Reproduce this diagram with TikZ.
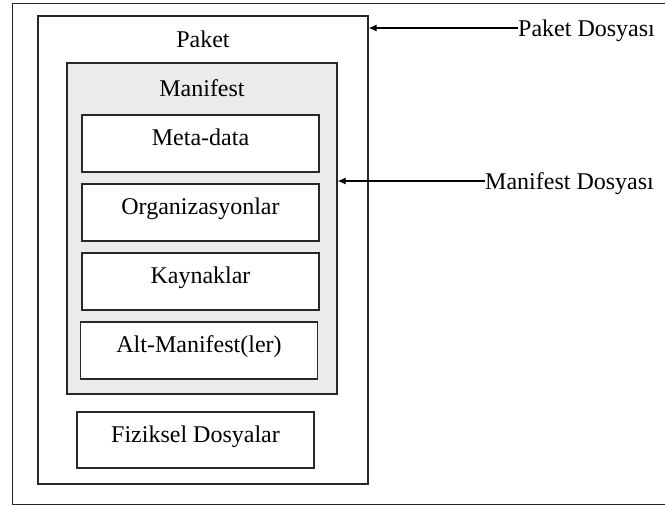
\documentclass[tikz,border=0pt]{standalone}
\usepackage{fontspec}
\setmainfont{Liberation Serif}
\usetikzlibrary{arrows.meta}
\definecolor{panelgray}{RGB}{235,235,235}
\definecolor{edgegray}{RGB}{40,40,40}

\begin{document}
\begin{tikzpicture}[
  x=1pt, y=-1pt,
  font=\fontsize{24}{28}\selectfont,
  frame/.style={
    draw=edgegray,
    line width=1.2pt,
    rectangle,
    inner sep=0pt,
  },
  part/.style={
    frame,
    fill=white,
    minimum width=237pt,
    minimum height=57pt,
    text height=16pt,
    text depth=12pt,
  },
  caption/.style={
    draw=none,
    fill=none,
    inner sep=0pt,
    anchor=base,
  },
  sidenote/.style={
    draw=none,
    inner sep=0pt,
    anchor=west,
    text height=16pt,
    text depth=0pt,
  },
  >={Latex[length=8pt,width=7pt]}
]

\useasboundingbox (0,0) rectangle (665,506);

% outer frame, its right side falls off the page
\draw[edgegray,line width=1pt] (666,3) -- (12,3) -- (12,504) -- (666,504);

% package and manifest
\node[frame,fill=white,minimum width=330pt,minimum height=468pt] (paket) at (203,250) {};
\node[caption] (paketlbl) at (203,47) {Paket};
\node[frame,fill=panelgray,minimum width=270pt,minimum height=331pt] (manifest) at (202,228.5) {};
\node[caption] (manifestlbl) at (202,96) {Manifest};

% parts of the manifest
\node[part] (meta) at (200.5,143.5) {Meta-data};
\node[part] (org)  at (200.5,212.5) {Organizasyonlar};
\node[part] (kayn) at (200.5,281.5) {Kaynaklar};
\node[part] (alt)  at (199,350.5)   {Alt-Manifest(ler)};

% files
\node[part,minimum height=56pt] (fiz) at (195.5,440) {Fiziksel Dosyalar};

% notes on the right
\node[sidenote] (pktfile) at (518,28) {Paket Dosyası};
\node[sidenote] (mnffile) at (485,181) {Manifest Dosyası};

\draw[->,line width=1.2pt] (pktfile.west) -- (paket.east |- pktfile.west);
\draw[->,line width=1.2pt] (mnffile.west) -- (manifest.east |- mnffile.west);

\end{tikzpicture}
\end{document}
